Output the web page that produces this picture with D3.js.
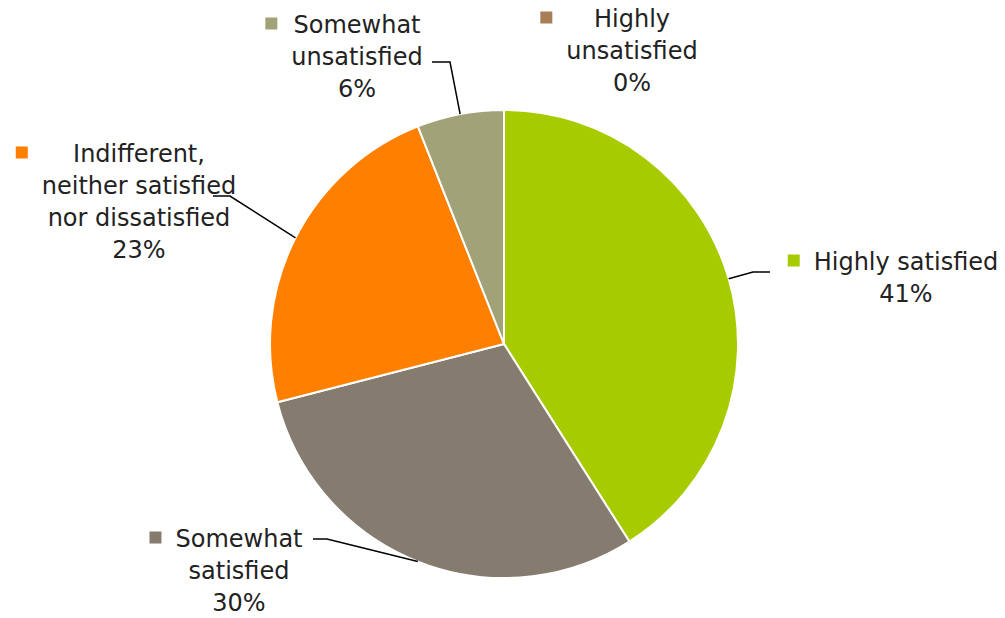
<!DOCTYPE html>
<html>
<head>
<meta charset="utf-8">
<script src="https://cdn.jsdelivr.net/npm/d3@7"></script>
<style>
  body { margin: 0; background: #fff; }
  text { font-family: "DejaVu Sans", sans-serif; fill: #222; }
</style>
</head>
<body>
<svg width="1005" height="618"></svg>
<script>
// data
var categories = ["Highly satisfied", "Somewhat satisfied", "Indifferent, neither satisfied nor dissatisfied", "Somewhat unsatisfied", "Highly unsatisfied"];
var values = [41, 30, 23, 6, 0];
var colors = ["#a6cc00", "#857b6e", "#ff8000", "#a1a278", "#a87e58"];
var labelLines = [["Highly satisfied"], ["Somewhat", "satisfied"], ["Indifferent,", "neither satisfied", "nor dissatisfied"], ["Somewhat", "unsatisfied"], ["Highly", "unsatisfied"]];

// label placement (center x, first baseline, leader elbow + end)
var layout = [
  { x: 906, y: 270, leader: [[753, 272], [770, 272]] },
  { x: 239, y: 547, leader: [[327, 539], [313, 539]] },
  { x: 139, y: 162, leader: [[230, 196], [213, 196]] },
  { x: 357, y: 33, leader: [[450, 62], [432, 62]] },
  { x: 632, y: 27, leader: null }
];

var svg = d3.select("svg"),
    cx = 504, cy = 344, radius = 234,
    lineH = 32;

var total = d3.sum(values),
    fmt = function (v) { return Math.round(v / total * 100) + "%"; };

var pie = d3.pie().sort(null).value(function (d) { return d; });
var arcs = pie(values);
var arc = d3.arc().innerRadius(0).outerRadius(radius);

var g = svg.append("g").attr("transform", "translate(" + cx + "," + cy + ")");

g.selectAll("path")
    .data(arcs)
    .enter().append("path")
    .attr("d", arc)
    .attr("fill", function (d, i) { return colors[i]; })
    .attr("stroke", "#fff")
    .attr("stroke-width", 2)
    .attr("stroke-linejoin", "round");

// leader lines
arcs.forEach(function (a, i) {
  var L = layout[i];
  if (!L.leader || a.value === 0) return;
  var mid = (a.startAngle + a.endAngle) / 2;
  var p0 = [cx + radius * Math.sin(mid), cy - radius * Math.cos(mid)];
  svg.append("path")
      .attr("d", d3.line()([p0].concat(L.leader)))
      .attr("fill", "none")
      .attr("stroke", "#000")
      .attr("stroke-width", 1.5);
});

// labels
categories.forEach(function (c, i) {
  var L = layout[i];
  var lines = labelLines[i].concat([fmt(values[i])]);
  var t = svg.append("text")
      .attr("text-anchor", "middle")
      .attr("font-size", 24);
  t.selectAll("tspan")
      .data(lines)
      .enter().append("tspan")
      .attr("x", L.x)
      .attr("y", function (d, j) { return L.y + j * lineH; })
      .text(function (d) { return d; });

  var maxW = d3.max(t.selectAll("tspan").nodes(), function (n) { return n.getComputedTextLength(); });
  svg.append("rect")
      .attr("x", L.x - maxW / 2 - 14 - 12)
      .attr("y", L.y - 9.5 - 6)
      .attr("width", 12)
      .attr("height", 12)
      .attr("fill", colors[i]);
});
</script>
</body>
</html>
